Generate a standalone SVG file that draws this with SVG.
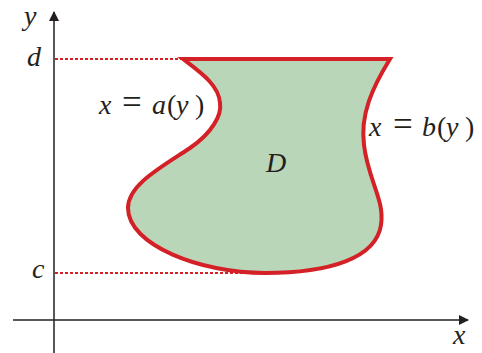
<svg xmlns="http://www.w3.org/2000/svg" width="482" height="353" viewBox="0 0 482 353">
<style>
text{font-family:"Liberation Serif","Times New Roman",serif;font-size:28px;fill:#231f20}
.i{font-style:italic}
.eq{font-size:35px}
.ax{stroke:#231f20;stroke-width:1.5;fill:none}
.dot{stroke:#d42027;stroke-width:2;stroke-dasharray:3 2;fill:none}
</style>
<defs>
<marker id="ah" viewBox="0 0 10 10" refX="9" refY="5" markerWidth="10" markerHeight="10" markerUnits="userSpaceOnUse" orient="auto">
<path d="M0,0 L10,5 L0,10 z" fill="#231f20"/>
</marker>
</defs>
<g id="connectors">
<line class="ax" x1="54" y1="353" x2="54" y2="12" marker-end="url(#ah)"/>
<line class="ax" x1="13" y1="320" x2="468" y2="320" marker-end="url(#ah)"/>
<line class="dot" x1="55" y1="59" x2="183" y2="59"/>
<line class="dot" x1="55" y1="273" x2="245" y2="273"/>
</g>
<g id="region">
<path d="M183,59 L390,59 C372,88 360,115 364,145 C368,180 385,200 381,225 C376,258 330,273 265,273 C200,273 128,245 128,208 C128,185 160,168 190,148 C212,133 222,115 220,103 C219,85 200,72 183,59 Z" fill="#bad6b9" stroke="#d42027" stroke-width="4" stroke-linejoin="miter"/>
</g>
<g id="labels">
<text class="i" x="24" y="25">y</text>
<text class="i" x="27" y="66">d</text>
<text class="i" x="32" y="278">c</text>
<text class="i" x="453" y="344">x</text>
<text class="i" x="266" y="172">D</text>
<text y="114"><tspan class="i" x="99">x</tspan><tspan class="eq" x="122">=</tspan><tspan class="i" x="152">a</tspan><tspan x="167">(</tspan><tspan class="i" x="176">y</tspan><tspan x="195">)</tspan></text>
<text y="136"><tspan class="i" x="369">x</tspan><tspan class="eq" x="393">=</tspan><tspan class="i" x="422">b</tspan><tspan x="437">(</tspan><tspan class="i" x="446">y</tspan><tspan x="465">)</tspan></text>
</g>
</svg>
